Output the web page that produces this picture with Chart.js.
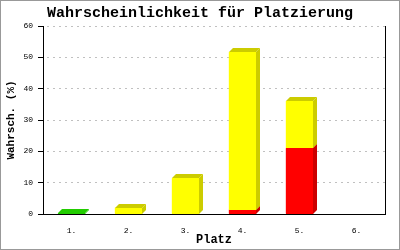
<!DOCTYPE html>
<html>
<head>
<meta charset="utf-8">
<script src="https://cdn.jsdelivr.net/npm/chart.js@4"></script>
<style>
  html, body { margin: 0; padding: 0; background: #fff; }
  #wrap { width: 400px; height: 250px; }
</style>
</head>
<body>
<div id="wrap"><canvas id="chart" width="400" height="250"></canvas></div>
<script>
const places = ['1.', '2.', '3.', '4.', '5.', '6.'];
const greenValues = [0.3, 0, 0, 0, 0, 0];
const redValues = [0, 0, 0, 1.4, 21, 0];
const yellowValues = [0, 2, 11.4, 50.3, 15.1, 0];

const monoFont = "'Liberation Mono', 'DejaVu Sans Mono', monospace";

// draws the gray frame around the whole picture
const framePlugin = {
  id: 'frame',
  beforeDraw(chart) {
    const ctx = chart.ctx;
    ctx.save();
    ctx.fillStyle = '#fff';
    ctx.fillRect(0, 0, chart.width, chart.height);
    ctx.strokeStyle = '#999';
    ctx.lineWidth = 1;
    ctx.strokeRect(0.5, 0.5, chart.width - 1, chart.height - 1);
    ctx.restore();
  }
};

// fake 3d: side + top face for each bar, then repaint the front
const depthPlugin = {
  id: 'depth',
  afterDatasetsDraw(chart) {
    const ctx = chart.ctx;
    const d = 4;
    ctx.save();
    chart.data.datasets.forEach((ds, i) => {
      const meta = chart.getDatasetMeta(i);
      meta.data.forEach((bar, j) => {
        if (!ds.data[j]) return;
        const p = bar.getProps(['x', 'y', 'base', 'width'], true);
        const l = Math.round(p.x - p.width / 2);
        const r = Math.round(p.x + p.width / 2);
        const top = Math.round(p.y);
        const base = Math.round(p.base);

        ctx.fillStyle = ds.sideColor;
        ctx.beginPath();
        ctx.moveTo(r, top);
        ctx.lineTo(r + d, top - d);
        ctx.lineTo(r + d, base - d);
        ctx.lineTo(r, base);
        ctx.closePath();
        ctx.fill();

        ctx.beginPath();
        ctx.moveTo(l, top);
        ctx.lineTo(l + d, top - d);
        ctx.lineTo(r + d, top - d);
        ctx.lineTo(r, top);
        ctx.closePath();
        ctx.fill();

        ctx.fillStyle = ds.backgroundColor;
        ctx.fillRect(l, top, r - l, base - top);
      });
    });
    ctx.restore();
  }
};

new Chart(document.getElementById('chart'), {
  type: 'bar',
  data: {
    labels: places,
    datasets: [
      { data: greenValues, backgroundColor: '#22cc00', sideColor: '#22cc00' },
      { data: redValues, backgroundColor: '#ff0000', sideColor: '#cc0000' },
      { data: yellowValues, backgroundColor: '#ffff00', sideColor: '#cccc00' }
    ]
  },
  options: {
    responsive: false,
    animation: false,
    barPercentage: 0.48,
    categoryPercentage: 1,
    layout: { padding: 0 },
    plugins: {
      legend: { display: false },
      tooltip: { enabled: false },
      title: {
        display: true,
        text: 'Wahrscheinlichkeit für Platzierung',
        color: '#000',
        font: { family: monoFont, size: 15, weight: 'bold' },
        padding: { top: 4, bottom: 4 }
      }
    },
    scales: {
      x: {
        stacked: true,
        grid: { display: false },
        border: { color: '#000', width: 1 },
        ticks: { color: '#000', font: { family: monoFont, size: 8 }, padding: 4 },
        title: {
          display: true,
          text: 'Platz',
          color: '#000',
          font: { family: monoFont, size: 12, weight: 'bold' },
          padding: { top: 0, bottom: 3 }
        },
        afterFit(scale) { scale.height = 36; }
      },
      y: {
        stacked: true,
        min: 0,
        max: 60,
        grid: { color: '#c0c0c0', tickColor: '#000', tickLength: 5, tickBorderDash: [] },
        border: { color: '#000', width: 1, dash: [2, 4], dashOffset: -3 },
        ticks: { stepSize: 10, color: '#000', font: { family: monoFont, size: 8 }, padding: 5 },
        title: {
          display: true,
          text: 'Wahrsch. (%)',
          color: '#000',
          font: { family: monoFont, size: 11, weight: 'bold' },
          padding: { top: 5, bottom: 0 }
        },
        afterFit(scale) { scale.width = 43; }
      },
      yRight: {
        position: 'right',
        min: 0,
        max: 60,
        grid: { drawOnChartArea: false, drawTicks: false },
        border: { color: '#000', width: 1 },
        ticks: { display: false },
        afterFit(scale) { scale.width = 15; }
      }
    }
  },
  plugins: [framePlugin, depthPlugin]
});
</script>
</body>
</html>
